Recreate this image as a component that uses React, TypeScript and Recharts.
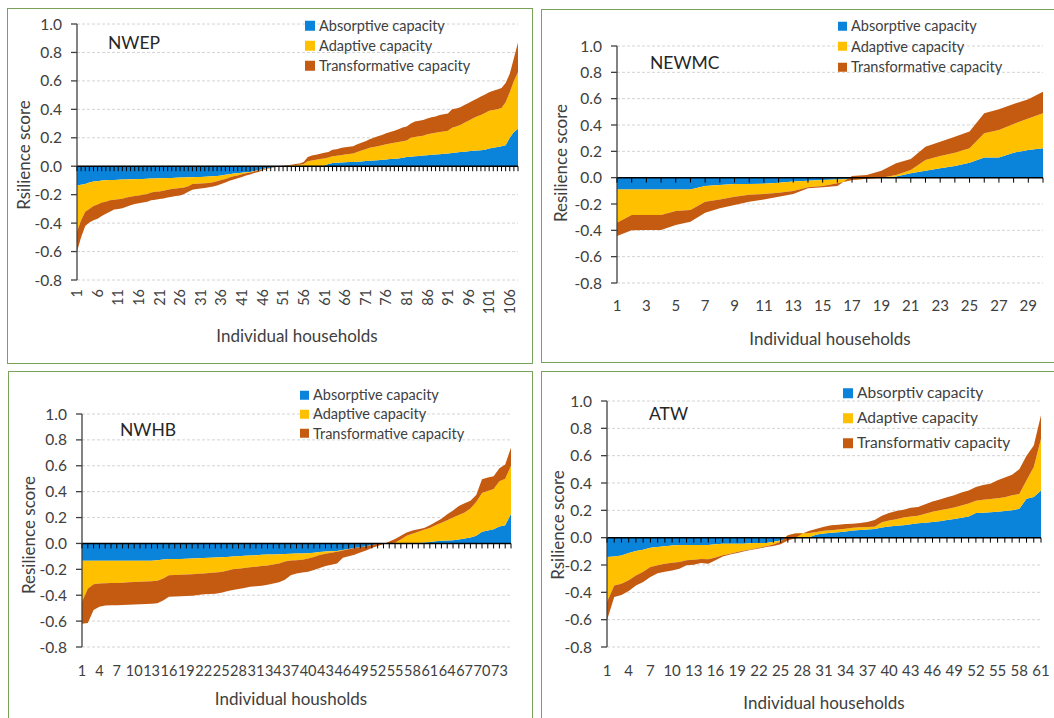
import React from "react";
import {
  AreaChart,
  Area,
  XAxis,
  YAxis,
  CartesianGrid,
  ReferenceLine,
} from "recharts";

// Values, one entry per household (sorted by score).

// NWEP, 108 households
const nwepAbsorptive = [
  -0.135, -0.13, -0.125, -0.115, -0.108, -0.105, -0.1, -0.098, -0.097, -0.096,
  -0.095, -0.094, -0.093, -0.092, -0.091, -0.09, -0.089, -0.088, -0.087, -0.086,
  -0.085, -0.084, -0.083, -0.082, -0.081, -0.08, -0.079, -0.078, -0.077, -0.076,
  -0.075, -0.074, -0.072, -0.07, -0.068, -0.065, -0.06, -0.056, -0.052, -0.05,
  -0.046, -0.043, -0.04, -0.034, -0.028, -0.022, -0.015, -0.01, -0.005, 0,
  0, 0, 0, 0, 0, 0, 0, 0, 0, 0,
  0.005, 0.015, 0.022, 0.025, 0.027, 0.028, 0.03, 0.03, 0.032, 0.034,
  0.036, 0.038, 0.04, 0.042, 0.045, 0.047, 0.05, 0.052, 0.055, 0.06,
  0.064, 0.066, 0.07, 0.072, 0.075, 0.077, 0.08, 0.082, 0.085, 0.088,
  0.09, 0.093, 0.096, 0.1, 0.102, 0.105, 0.108, 0.11, 0.112, 0.115,
  0.125, 0.13, 0.135, 0.14, 0.148, 0.2, 0.24, 0.263,
];
const nwepAdaptive = [
  -0.325, -0.25, -0.195, -0.185, -0.172, -0.165, -0.155, -0.152, -0.143, -0.139,
  -0.137, -0.134, -0.127, -0.123, -0.119, -0.115, -0.111, -0.107, -0.098, -0.094,
  -0.092, -0.088, -0.082, -0.078, -0.076, -0.073, -0.071, -0.062, -0.048, -0.047,
  -0.046, -0.046, -0.046, -0.042, -0.037, -0.032, -0.03, -0.024, -0.018, -0.015,
  -0.011, -0.007, -0.004, -0.003, -0.002, -0.002, -0.002, -0.002, -0.001, 0,
  0.002, 0.004, 0.006, 0.008, 0.01, 0.015, 0.035, 0.04, 0.045, 0.05,
  0.05, 0.047, 0.048, 0.049, 0.051, 0.054, 0.056, 0.06, 0.068, 0.076,
  0.084, 0.092, 0.095, 0.098, 0.103, 0.108, 0.11, 0.113, 0.115, 0.115,
  0.116, 0.134, 0.135, 0.138, 0.14, 0.148, 0.15, 0.153, 0.155, 0.157,
  0.16, 0.177, 0.184, 0.19, 0.203, 0.215, 0.227, 0.24, 0.248, 0.26,
  0.265, 0.265, 0.265, 0.27, 0.302, 0.32, 0.36, 0.397,
];
const nwepTransformative = [
  -0.14, -0.12, -0.1, -0.095, -0.1, -0.1, -0.095, -0.085, -0.08, -0.07,
  -0.068, -0.067, -0.065, -0.06, -0.055, -0.055, -0.055, -0.055, -0.055, -0.055,
  -0.053, -0.055, -0.055, -0.055, -0.053, -0.052, -0.045, -0.04, -0.04, -0.037,
  -0.036, -0.033, -0.03, -0.031, -0.03, -0.028, -0.025, -0.023, -0.023, -0.02,
  -0.018, -0.016, -0.014, -0.011, -0.01, -0.006, -0.005, -0.002, -0.001, 0,
  0.001, 0.002, 0.004, 0.007, 0.01, 0.015, 0.03, 0.035, 0.035, 0.038,
  0.04, 0.038, 0.045, 0.046, 0.05, 0.051, 0.051, 0.05, 0.055, 0.055,
  0.055, 0.06, 0.065, 0.07, 0.072, 0.077, 0.08, 0.085, 0.09, 0.097,
  0.1, 0.1, 0.11, 0.11, 0.11, 0.11, 0.115, 0.115, 0.12, 0.12,
  0.12, 0.13, 0.125, 0.125, 0.125, 0.125, 0.125, 0.125, 0.13, 0.13,
  0.13, 0.135, 0.14, 0.14, 0.135, 0.13, 0.16, 0.21,
];

// NEWMC, 30 households
const newmcAbsorptive = [
  -0.089, -0.089, -0.089, -0.089, -0.089, -0.089, -0.063, -0.056, -0.048, -0.048,
  -0.046, -0.038, -0.03, -0.023, -0.018, -0.013, -0.01, -0.003, 0, 0.008,
  0.033, 0.053, 0.071, 0.089, 0.114, 0.154, 0.154, 0.19, 0.21, 0.223,
];
const newmcAdaptive = [
  -0.253, -0.195, -0.195, -0.195, -0.164, -0.157, -0.119, -0.109, -0.096, -0.082,
  -0.078, -0.076, -0.071, -0.05, -0.045, -0.03, -0.008, -0.005, 0, 0.012,
  0.025, 0.081, 0.094, 0.101, 0.109, 0.183, 0.208, 0.218, 0.24, 0.266,
];
const newmcTransformative = [
  -0.101, -0.116, -0.113, -0.113, -0.107, -0.088, -0.084, -0.068, -0.064, -0.052,
  -0.041, -0.03, -0.023, -0.008, -0.01, -0.02, 0.031, 0.028, 0.053, 0.089,
  0.084, 0.101, 0.108, 0.121, 0.127, 0.152, 0.158, 0.152, 0.145, 0.164,
];

// NWHB, 75 households
const nwhbAbsorptive = [
  -0.134, -0.134, -0.134, -0.134, -0.134, -0.134, -0.134, -0.134, -0.134, -0.134,
  -0.134, -0.134, -0.134, -0.13, -0.124, -0.12, -0.12, -0.12, -0.118, -0.116,
  -0.114, -0.112, -0.11, -0.108, -0.106, -0.104, -0.1, -0.098, -0.096, -0.094,
  -0.092, -0.088, -0.086, -0.085, -0.084, -0.082, -0.08, -0.078, -0.077, -0.076,
  -0.072, -0.066, -0.062, -0.06, -0.058, -0.05, -0.042, -0.036, -0.03, -0.022,
  -0.012, -0.008, -0.004, 0, 0, 0, 0, 0.002, 0.005, 0.008,
  0.012, 0.016, 0.02, 0.022, 0.024, 0.03, 0.038, 0.045, 0.06, 0.09,
  0.1, 0.11, 0.13, 0.14, 0.23,
];
const nwhbAdaptive = [
  -0.316, -0.216, -0.181, -0.176, -0.174, -0.172, -0.171, -0.169, -0.166, -0.164,
  -0.162, -0.16, -0.158, -0.158, -0.146, -0.125, -0.124, -0.122, -0.122, -0.122,
  -0.121, -0.12, -0.118, -0.116, -0.114, -0.106, -0.1, -0.098, -0.094, -0.09,
  -0.088, -0.087, -0.084, -0.078, -0.071, -0.058, -0.052, -0.052, -0.048, -0.04,
  -0.033, -0.024, -0.018, -0.012, -0.007, -0.005, -0.003, 0, 0, 0,
  0, 0.004, 0.004, 0.002, 0.005, 0.03, 0.06, 0.073, 0.085, 0.097,
  0.108, 0.124, 0.14, 0.158, 0.176, 0.19, 0.202, 0.225, 0.26, 0.3,
  0.305, 0.31, 0.35, 0.36, 0.37,
];
const nwhbTransformative = [
  -0.17, -0.265, -0.2, -0.18, -0.172, -0.172, -0.172, -0.173, -0.174, -0.174,
  -0.174, -0.174, -0.174, -0.174, -0.17, -0.167, -0.166, -0.166, -0.166, -0.166,
  -0.163, -0.161, -0.162, -0.164, -0.16, -0.16, -0.16, -0.156, -0.154, -0.15,
  -0.15, -0.151, -0.15, -0.147, -0.145, -0.14, -0.113, -0.102, -0.1, -0.102,
  -0.1, -0.1, -0.095, -0.093, -0.09, -0.055, -0.053, -0.052, -0.04, -0.033,
  -0.023, -0.016, -0.005, 0.013, 0.03, 0.03, 0.025, 0.025, 0.02, 0.015,
  0.02, 0.025, 0.03, 0.045, 0.055, 0.07, 0.07, 0.06, 0.055, 0.105,
  0.105, 0.1, 0.1, 0.11, 0.14,
];

// ATW, 61 households
const atwAbsorptive = [
  -0.141, -0.137, -0.13, -0.112, -0.098, -0.088, -0.073, -0.068, -0.063, -0.058,
  -0.054, -0.054, -0.054, -0.054, -0.054, -0.049, -0.044, -0.044, -0.044, -0.044,
  -0.039, -0.039, -0.039, -0.03, -0.02, -0.012, -0.005, 0, 0.005, 0.024,
  0.03, 0.036, 0.04, 0.046, 0.052, 0.056, 0.06, 0.064, 0.075, 0.082,
  0.088, 0.09, 0.098, 0.105, 0.11, 0.114, 0.12, 0.13, 0.136, 0.145,
  0.155, 0.18, 0.182, 0.186, 0.19, 0.195, 0.2, 0.212, 0.285, 0.298,
  0.346,
];
const atwAdaptive = [
  -0.329, -0.213, -0.207, -0.2, -0.178, -0.162, -0.142, -0.134, -0.127, -0.125,
  -0.124, -0.112, -0.107, -0.102, -0.104, -0.097, -0.085, -0.073, -0.061, -0.049,
  -0.046, -0.034, -0.024, -0.02, -0.01, 0.029, 0.035, 0.032, 0.03, 0.017,
  0.02, 0.019, 0.019, 0.019, 0.02, 0.02, 0.018, 0.016, 0.037, 0.043,
  0.047, 0.058, 0.057, 0.055, 0.065, 0.076, 0.08, 0.08, 0.084, 0.09,
  0.095, 0.09, 0.096, 0.097, 0.098, 0.1, 0.11, 0.108, 0.135, 0.219,
  0.378,
];
const atwTransformative = [
  -0.135, -0.084, -0.083, -0.078, -0.074, -0.074, -0.073, -0.058, -0.06, -0.057,
  -0.049, -0.036, -0.037, -0.029, -0.032, -0.02, -0.008, -0.007, -0.007, -0.007,
  -0.003, -0.007, -0.005, -0.011, -0.019, -0.037, -0.035, -0.002, 0.015, 0.025,
  0.03, 0.035, 0.036, 0.035, 0.03, 0.032, 0.037, 0.05, 0.048, 0.055,
  0.06, 0.057, 0.063, 0.065, 0.07, 0.075, 0.08, 0.085, 0.09, 0.095,
  0.095, 0.1, 0.107, 0.112, 0.132, 0.145, 0.15, 0.18, 0.18, 0.158,
  0.171,
];

const Y_TICKS = [-0.8, -0.6, -0.4, -0.2, 0, 0.2, 0.4, 0.6, 0.8, 1.0];
const Y_MIN = -0.8;
const Y_MAX = 1.0;

const SERIES = [
  { key: "absorptive", color: "#0a84db" },
  { key: "adaptive", color: "#ffc000" },
  { key: "transformative", color: "#c55a11" },
];

const FONT = "Lato, 'Open Sans', sans-serif";
const TEXT = "#404040";

function toRows(a: number[], b: number[], c: number[]) {
  return a.map((v, i) => ({
    hh: i + 1,
    absorptive: v,
    adaptive: b[i],
    transformative: c[i],
  }));
}

const PANELS = [
  {
    id: "nwep",
    title: "NWEP",
    yLabel: "Rsilience score",
    xLabel: "Individual households",
    legend: ["Absorptive capacity", "Adaptive capacity", "Transformative capacity"],
    rows: toRows(nwepAbsorptive, nwepAdaptive, nwepTransformative),
    every: 5,
    rotate: true,
    box: { left: 7, top: 8, width: 526, height: 356 },
    plot: { left: 77, right: 518, top: 24, bottom: 280 },
    yTickEnd: 62,
    xTickY: 289,
    xTickFont: 14.5,
    titleAt: { x: 108, y: 43 },
    yLabelAt: { x: 23, y: 155 },
    xLabelAt: { x: 297, y: 335 },
    legendAt: { x: 305, y: 26, gap: 20, sq: 10, font: 14.5 },
  },
  {
    id: "newmc",
    title: "NEWMC",
    yLabel: "Resilience score",
    xLabel: "Individual households",
    legend: ["Absorptive capacity", "Adaptive capacity", "Transformative capacity"],
    rows: toRows(newmcAbsorptive, newmcAdaptive, newmcTransformative),
    every: 2,
    rotate: false,
    box: { left: 541, top: 9, width: 520, height: 354 },
    plot: { left: 617, right: 1043, top: 46, bottom: 283 },
    yTickEnd: 602,
    xTickY: 306,
    xTickFont: 15,
    titleAt: { x: 650, y: 63 },
    yLabelAt: { x: 560, y: 163 },
    xLabelAt: { x: 830, y: 338 },
    legendAt: { x: 838, y: 26, gap: 20.5, sq: 9, font: 14.5 },
  },
  {
    id: "nwhb",
    title: "NWHB",
    yLabel: "Resilience score",
    xLabel: "Individual housholds",
    legend: ["Absorptive capacity", "Adaptive capacity", "Transformative capacity"],
    rows: toRows(nwhbAbsorptive, nwhbAdaptive, nwhbTransformative),
    every: 3,
    rotate: false,
    box: { left: 8, top: 371, width: 525, height: 350 },
    plot: { left: 82, right: 511, top: 414, bottom: 647 },
    yTickEnd: 67,
    xTickY: 671,
    xTickFont: 14.5,
    titleAt: { x: 120, y: 430 },
    yLabelAt: { x: 28, y: 535 },
    xLabelAt: { x: 291, y: 698 },
    legendAt: { x: 300, y: 395, gap: 19.3, sq: 9, font: 14.5 },
  },
  {
    id: "atw",
    title: "ATW",
    yLabel: "Rsilience score",
    xLabel: "Individual households",
    legend: ["Absorptiv capacity", "Adaptive capacity", "Transformativ capacity"],
    rows: toRows(atwAbsorptive, atwAdaptive, atwTransformative),
    every: 3,
    rotate: false,
    box: { left: 541, top: 371, width: 520, height: 350 },
    plot: { left: 607, right: 1041, top: 401, bottom: 647 },
    yTickEnd: 592,
    xTickY: 671,
    xTickFont: 15,
    titleAt: { x: 649, y: 414 },
    yLabelAt: { x: 557, y: 525 },
    xLabelAt: { x: 824, y: 702 },
    legendAt: { x: 843, y: 393, gap: 25, sq: 10, font: 15.5 },
  },
];

const Y_AXIS_W = 60;
const X_AXIS_H = 30;

// Small tick mark hanging from the zero line, plus the household label at the bottom.
function HouseholdTick(props: any) {
  const { x, y, payload, zeroShift, labelShift, every, rotate, fontSize } = props;
  const zeroY = y - zeroShift;
  const show = (payload.value - 1) % every === 0;
  const ly = y + labelShift;
  return (
    <g>
      <line x1={x} x2={x} y1={zeroY} y2={zeroY + 5} stroke="#000" strokeWidth={1} />
      {show &&
        (rotate ? (
          <text
            x={x}
            y={ly}
            transform={`rotate(-90 ${x} ${ly})`}
            textAnchor="end"
            dy="0.36em"
            fill={TEXT}
            fontSize={fontSize}
            fontFamily={FONT}
          >
            {payload.value}
          </text>
        ) : (
          <text
            x={x}
            y={ly}
            textAnchor="middle"
            dy="0.36em"
            fill={TEXT}
            fontSize={fontSize}
            fontFamily={FONT}
          >
            {payload.value}
          </text>
        ))}
    </g>
  );
}

function Panel({ p }: { p: (typeof PANELS)[number] }) {
  const { box, plot } = p;
  const plotH = plot.bottom - plot.top;
  const margin = {
    top: plot.top - box.top,
    left: plot.left - box.left - Y_AXIS_W,
    right: box.left + box.width - plot.right,
    bottom: box.top + box.height - plot.bottom - X_AXIS_H,
  };
  const zeroShift = ((0 - Y_MIN) / (Y_MAX - Y_MIN)) * plotH;

  return (
    <>
      <div style={{ position: "absolute", left: box.left, top: box.top }}>
        <AreaChart width={box.width} height={box.height} data={p.rows} margin={margin}>
          <CartesianGrid vertical={false} stroke="#d4d4d4" strokeDasharray="3 2" />
          <YAxis
            type="number"
            domain={[Y_MIN, Y_MAX]}
            ticks={Y_TICKS}
            interval={0}
            allowDataOverflow
            width={Y_AXIS_W}
            tickFormatter={(v: number) => v.toFixed(1)}
            axisLine={{ stroke: "#404040", strokeWidth: 1.3 }}
            tickLine={{ stroke: "#404040", strokeWidth: 1.3 }}
            tickSize={6}
            tickMargin={plot.left - 6 - p.yTickEnd}
            tick={{ fill: TEXT, fontSize: 15.5, fontFamily: FONT }}
          />
          {SERIES.map((s, i) => (
            <Area
              key={s.key}
              dataKey={s.key}
              name={p.legend[i]}
              stackId="cap"
              type="linear"
              stroke="none"
              fill={s.color}
              fillOpacity={1}
              dot={false}
              activeDot={false}
              isAnimationActive={false}
            />
          ))}
          <ReferenceLine y={0} stroke="#000" strokeWidth={1.5} />
          <XAxis
            dataKey="hh"
            height={X_AXIS_H}
            interval={0}
            axisLine={false}
            tickLine={false}
            tickSize={0}
            tickMargin={0}
            tick={
              <HouseholdTick
                zeroShift={zeroShift}
                labelShift={p.xTickY - plot.bottom}
                every={p.every}
                rotate={p.rotate}
                fontSize={p.xTickFont}
              />
            }
          />
        </AreaChart>
      </div>

      {/* frame */}
      <div
        style={{
          position: "absolute",
          left: box.left,
          top: box.top,
          width: box.width,
          height: box.height,
          boxSizing: "border-box",
          border: "1.5px solid #77a258",
          pointerEvents: "none",
        }}
      />

      {/* title */}
      <div
        style={{
          position: "absolute",
          left: p.titleAt.x,
          top: p.titleAt.y,
          transform: "translateY(-50%)",
          fontFamily: FONT,
          fontSize: 17.5,
          lineHeight: 1,
          color: "#262626",
          whiteSpace: "nowrap",
        }}
      >
        {p.title}
      </div>

      {/* y axis title */}
      <div
        style={{
          position: "absolute",
          left: p.yLabelAt.x,
          top: p.yLabelAt.y,
          transform: "translate(-50%, -50%) rotate(-90deg)",
          fontFamily: FONT,
          fontSize: 17,
          lineHeight: 1,
          color: TEXT,
          whiteSpace: "nowrap",
        }}
      >
        {p.yLabel}
      </div>

      {/* x axis title */}
      <div
        style={{
          position: "absolute",
          left: p.xLabelAt.x,
          top: p.xLabelAt.y,
          transform: "translate(-50%, -50%)",
          fontFamily: FONT,
          fontSize: 17,
          lineHeight: 1,
          color: TEXT,
          whiteSpace: "nowrap",
        }}
      >
        {p.xLabel}
      </div>

      {/* legend */}
      {SERIES.map((s, i) => (
        <div
          key={s.key}
          style={{
            position: "absolute",
            left: p.legendAt.x,
            top: p.legendAt.y + i * p.legendAt.gap,
            transform: "translateY(-50%)",
            display: "flex",
            alignItems: "center",
            fontFamily: FONT,
            fontSize: p.legendAt.font,
            lineHeight: 1,
            color: TEXT,
            whiteSpace: "nowrap",
          }}
        >
          <span
            style={{
              display: "inline-block",
              width: p.legendAt.sq,
              height: p.legendAt.sq,
              background: s.color,
              marginRight: 4,
            }}
          />
          {p.legend[i]}
        </div>
      ))}
    </>
  );
}

export default function App() {
  return (
    <div
      style={{
        position: "absolute",
        left: 0,
        top: 0,
        width: 1054,
        height: 718,
        overflow: "hidden",
        background: "#fff",
      }}
    >
      {PANELS.map((p) => (
        <Panel key={p.id} p={p} />
      ))}
    </div>
  );
}
